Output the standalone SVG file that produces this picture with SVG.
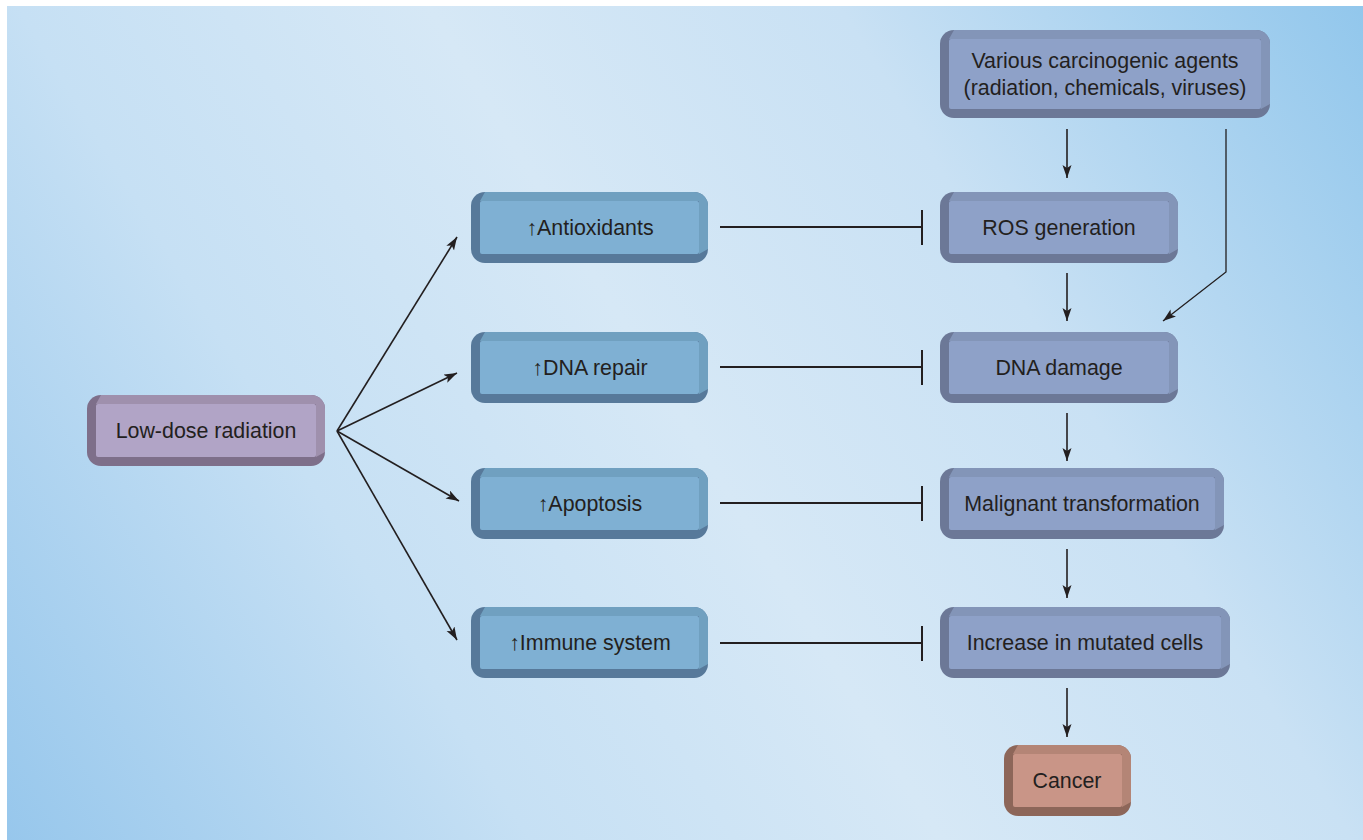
<svg xmlns="http://www.w3.org/2000/svg" width="1363" height="840" viewBox="0 0 1363 840">
<defs>
<linearGradient id="bg" gradientUnits="userSpaceOnUse" x1="7" y1="840" x2="1363" y2="6">
<stop offset="0" stop-color="#97c7ec"/>
<stop offset="0.28" stop-color="#c6e0f4"/>
<stop offset="0.5" stop-color="#d6e8f6"/>
<stop offset="0.72" stop-color="#c9e1f4"/>
<stop offset="1" stop-color="#92c7ec"/>
</linearGradient>
<marker id="ah" markerUnits="userSpaceOnUse" markerWidth="14" markerHeight="10" refX="13" refY="4.5" orient="auto">
<path d="M0,0 L13,4.5 L0,9 L3,4.5 z" fill="#231f20"/>
</marker>
<style>
text{font-family:"Liberation Sans",Arial,sans-serif;font-size:21.4px;fill:#231f20;text-anchor:middle}
.c{stroke:#231f20;stroke-width:1.6;fill:none}
.a{marker-end:url(#ah)}
.inh{stroke:#231f20;stroke-width:2;fill:none}
.pu .d{fill:#7e6f8a}.pu .m{fill:#9f90ad}.pu .i{fill:#b1a4c6}
.bl .d{fill:#57799a}.bl .m{fill:#70a0c0}.bl .i{fill:#7fb0d3}
.sl .d{fill:#6c7897}.sl .m{fill:#8395b8}.sl .i{fill:#8ea1c8}
.ca .d{fill:#8d6659}.ca .m{fill:#b48576}.ca .i{fill:#c99587}
</style>
</defs>
<rect x="0" y="0" width="1363" height="840" fill="#ffffff"/>
<rect x="7" y="6" width="1356" height="834" fill="url(#bg)"/>

<g id="connectors">
<line class="c a" x1="337" y1="431" x2="457" y2="237"/>
<line class="c a" x1="337" y1="431" x2="457" y2="373"/>
<line class="c a" x1="337" y1="431" x2="459" y2="501"/>
<line class="c a" x1="337" y1="431" x2="457" y2="640"/>
<path class="inh" d="M720,227 H922 M922,210 V245"/>
<path class="inh" d="M720,367 H922 M922,350 V385"/>
<path class="inh" d="M720,503 H922 M922,486 V521"/>
<path class="inh" d="M720,643 H922 M922,626 V661"/>
<line class="c a" x1="1067" y1="129" x2="1067" y2="178"/>
<line class="c a" x1="1067" y1="273" x2="1067" y2="321"/>
<line class="c a" x1="1067" y1="413" x2="1067" y2="461"/>
<line class="c a" x1="1067" y1="549" x2="1067" y2="598"/>
<line class="c a" x1="1067" y1="688" x2="1067" y2="737"/>
<path class="c a" d="M1226,129 V272 L1163,321" style="stroke-width:1.3"/>
</g>

<g id="low-dose" class="pu">
<rect class="d" x="87" y="395" width="238" height="71" rx="14"/>
<path class="m" d="M101,395 H311 A14,14 0 0 1 325,409 V452 L316,457 V404 H96 Z"/>
<rect class="i" x="96" y="404" width="220" height="53" rx="2"/>
<text x="206" y="438">Low-dose radiation</text>
</g>

<g id="antioxidants" class="bl">
<rect class="d" x="471" y="192" width="237" height="71" rx="14"/>
<path class="m" d="M485,192 H694 A14,14 0 0 1 708,206 V249 L699,254 V201 H480 Z"/>
<rect class="i" x="480" y="201" width="219" height="53" rx="2"/>
<text x="590" y="235">↑Antioxidants</text>
</g>

<g id="dna-repair" class="bl">
<rect class="d" x="471" y="332" width="237" height="71" rx="14"/>
<path class="m" d="M485,332 H694 A14,14 0 0 1 708,346 V389 L699,394 V341 H480 Z"/>
<rect class="i" x="480" y="341" width="219" height="53" rx="2"/>
<text x="590" y="375">↑DNA repair</text>
</g>

<g id="apoptosis" class="bl">
<rect class="d" x="471" y="468" width="237" height="71" rx="14"/>
<path class="m" d="M485,468 H694 A14,14 0 0 1 708,482 V525 L699,530 V477 H480 Z"/>
<rect class="i" x="480" y="477" width="219" height="53" rx="2"/>
<text x="590" y="511">↑Apoptosis</text>
</g>

<g id="immune" class="bl">
<rect class="d" x="471" y="607" width="237" height="71" rx="14"/>
<path class="m" d="M485,607 H694 A14,14 0 0 1 708,621 V664 L699,669 V616 H480 Z"/>
<rect class="i" x="480" y="616" width="219" height="53" rx="2"/>
<text x="590" y="650">↑Immune system</text>
</g>

<g id="agents" class="sl">
<rect class="d" x="940" y="30" width="330" height="88" rx="14"/>
<path class="m" d="M954,30 H1256 A14,14 0 0 1 1270,44 V104 L1261,109 V39 H949 Z"/>
<rect class="i" x="949" y="39" width="312" height="70" rx="2"/>
<text x="1105" y="68">Various carcinogenic agents</text>
<text x="1105" y="95">(radiation, chemicals, viruses)</text>
</g>

<g id="ros" class="sl">
<rect class="d" x="940" y="192" width="238" height="71" rx="14"/>
<path class="m" d="M954,192 H1164 A14,14 0 0 1 1178,206 V249 L1169,254 V201 H949 Z"/>
<rect class="i" x="949" y="201" width="220" height="53" rx="2"/>
<text x="1059" y="235">ROS generation</text>
</g>

<g id="dna-damage" class="sl">
<rect class="d" x="940" y="332" width="238" height="71" rx="14"/>
<path class="m" d="M954,332 H1164 A14,14 0 0 1 1178,346 V389 L1169,394 V341 H949 Z"/>
<rect class="i" x="949" y="341" width="220" height="53" rx="2"/>
<text x="1059" y="375">DNA damage</text>
</g>

<g id="malignant" class="sl">
<rect class="d" x="940" y="468" width="284" height="71" rx="14"/>
<path class="m" d="M954,468 H1210 A14,14 0 0 1 1224,482 V525 L1215,530 V477 H949 Z"/>
<rect class="i" x="949" y="477" width="266" height="53" rx="2"/>
<text x="1082" y="511">Malignant transformation</text>
</g>

<g id="mutated" class="sl">
<rect class="d" x="940" y="607" width="290" height="71" rx="14"/>
<path class="m" d="M954,607 H1216 A14,14 0 0 1 1230,621 V664 L1221,669 V616 H949 Z"/>
<rect class="i" x="949" y="616" width="272" height="53" rx="2"/>
<text x="1085" y="650">Increase in mutated cells</text>
</g>

<g id="cancer" class="ca">
<rect class="d" x="1004" y="745" width="127" height="71" rx="14"/>
<path class="m" d="M1018,745 H1117 A14,14 0 0 1 1131,759 V802 L1122,807 V754 H1013 Z"/>
<rect class="i" x="1013" y="754" width="109" height="53" rx="2"/>
<text x="1067" y="788">Cancer</text>
</g>
</svg>
